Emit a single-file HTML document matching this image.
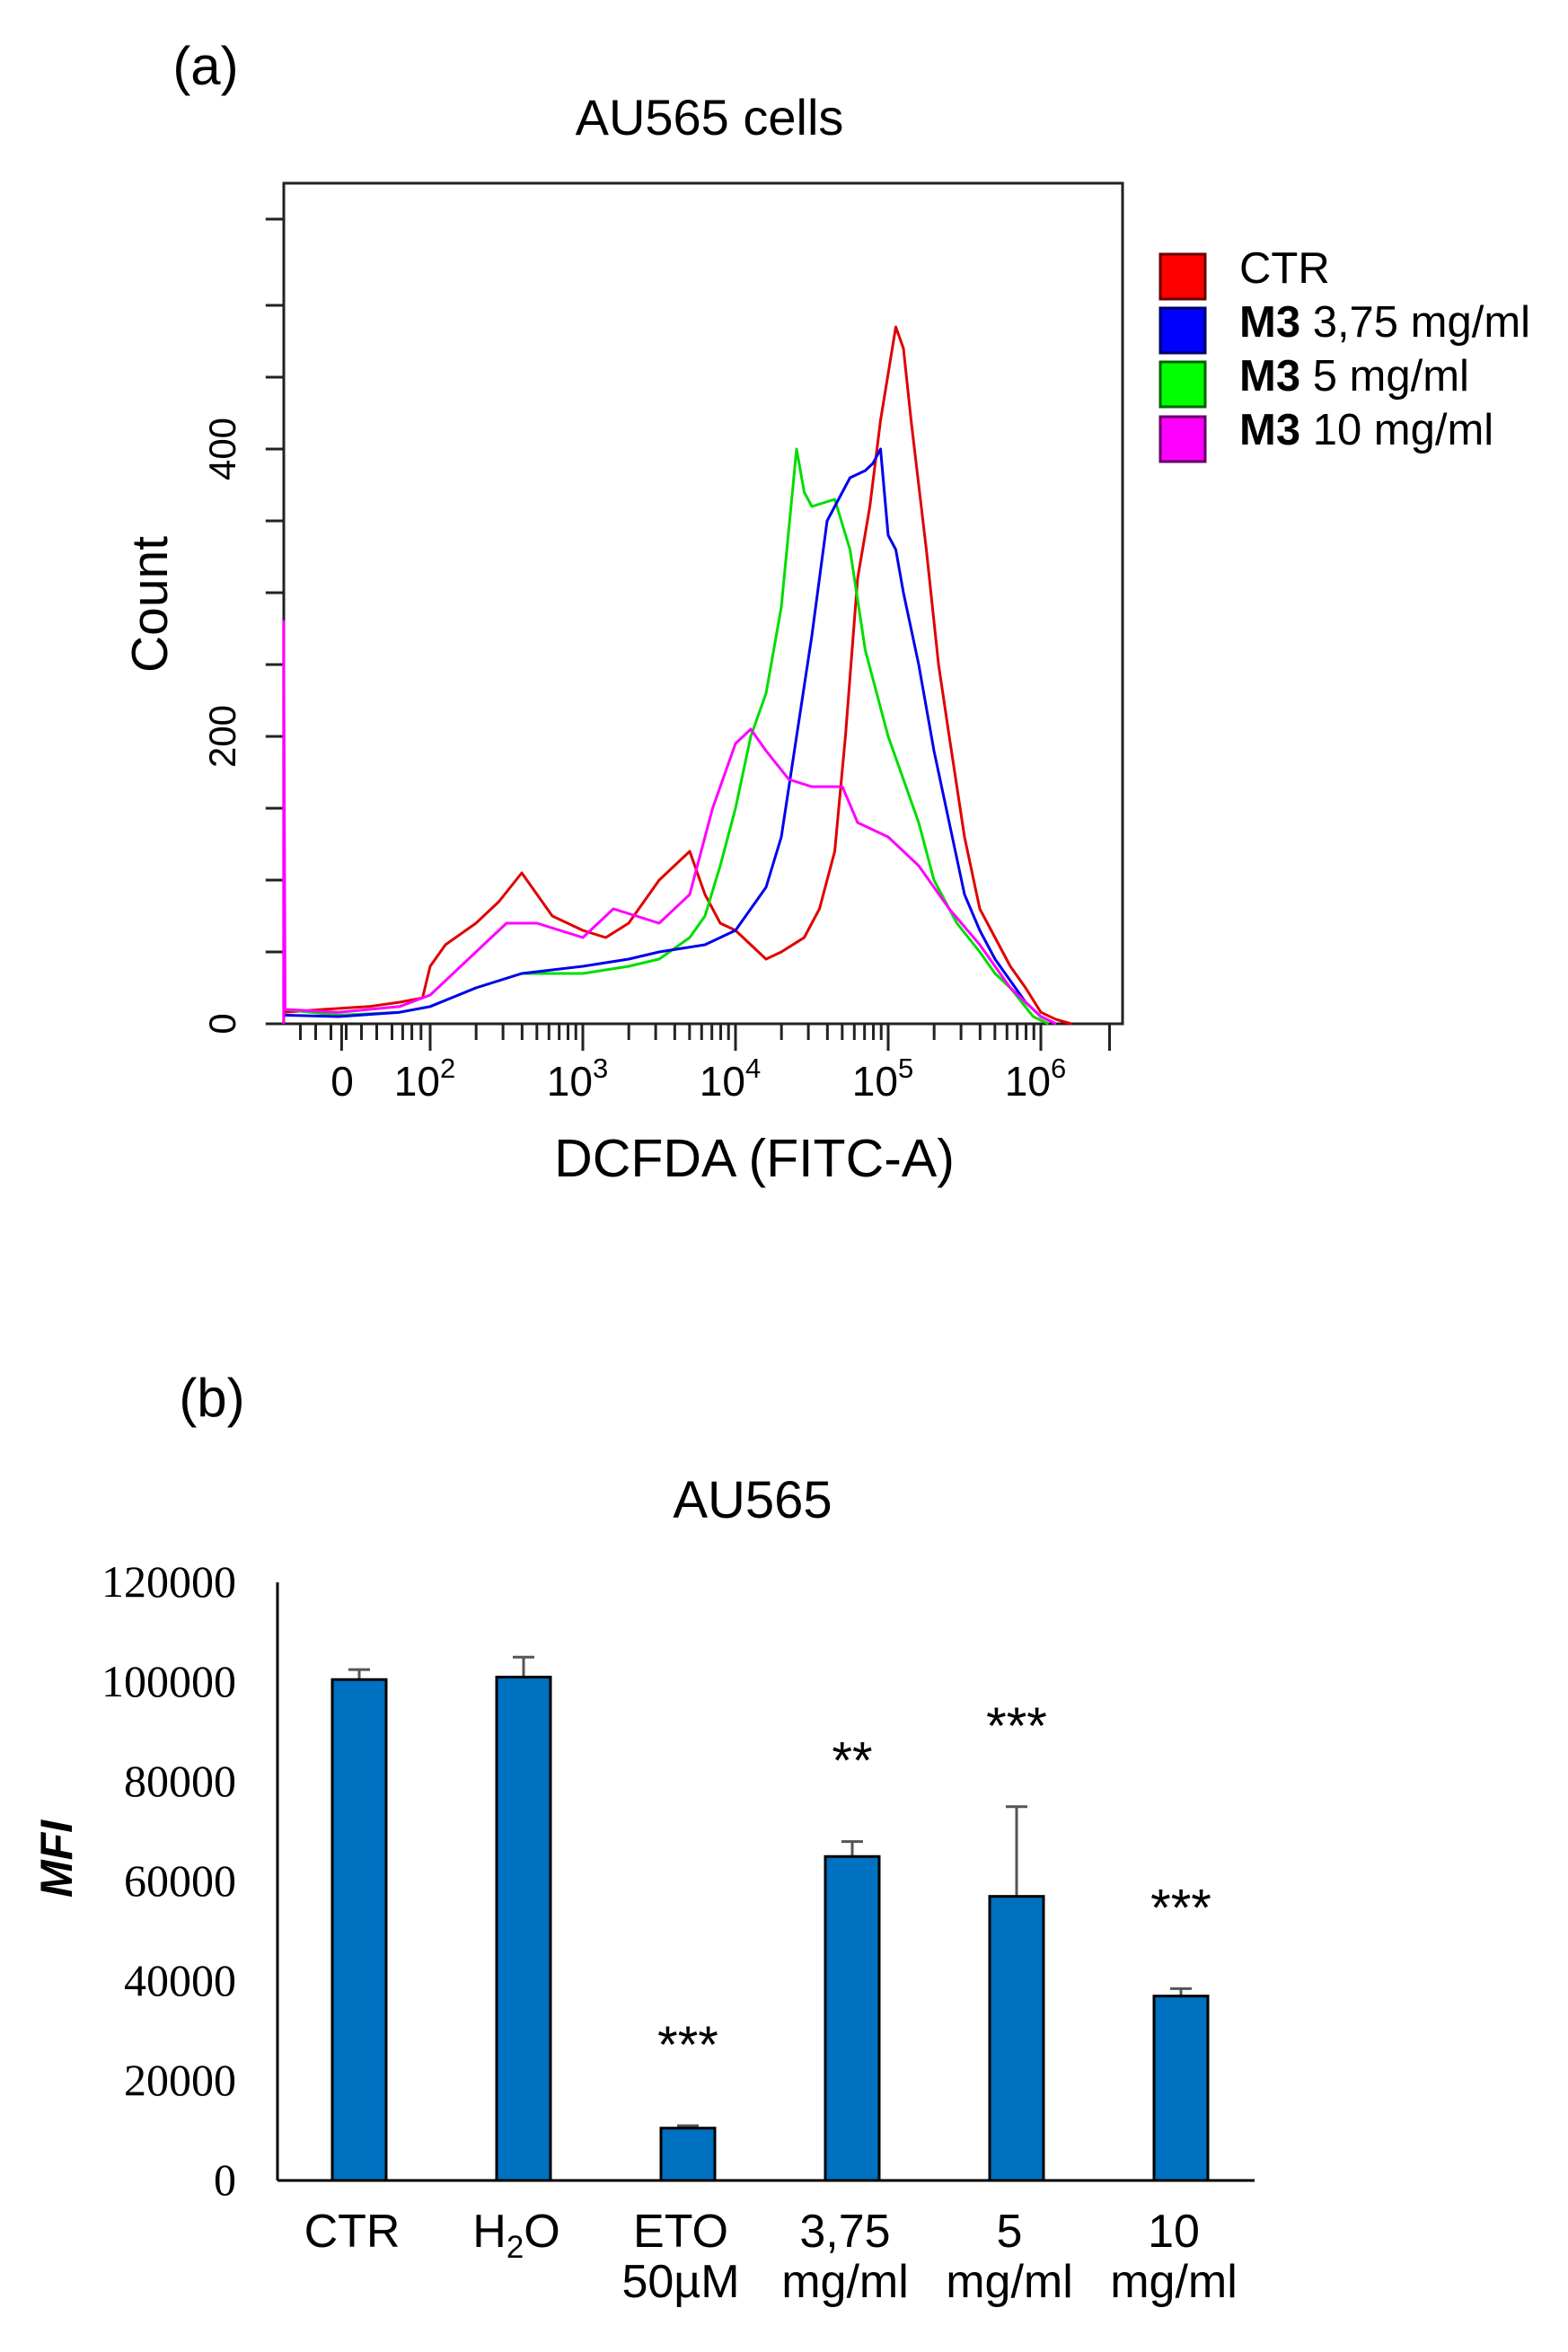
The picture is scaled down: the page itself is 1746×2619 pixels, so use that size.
<!DOCTYPE html>
<html><head><meta charset="utf-8"><style>
html,body{margin:0;padding:0;background:#fff;}
svg{display:block;}
text{font-family:"Liberation Sans",sans-serif;}
.serif{font-family:"Liberation Serif",serif;}
</style></head><body>
<svg id="fig" width="1746" height="2619" viewBox="0 0 1746 2619" xmlns="http://www.w3.org/2000/svg">
<text x="229" y="94" font-size="60" text-anchor="middle">(a)</text>
<text x="790" y="150" font-size="56" text-anchor="middle">AU565 cells</text>
<g id="hist"></g>
<text x="840" y="1310" font-size="59" text-anchor="middle">DCFDA (FITC-A)</text>
<text transform="translate(186,673) rotate(-90)" font-size="57" text-anchor="middle">Count</text>
<g>
 <rect x="1292" y="283" width="50" height="50" fill="#ff0000" stroke="#600" stroke-width="3"/>
 <rect x="1292" y="343" width="50" height="50" fill="#0000ff" stroke="#006" stroke-width="3"/>
 <rect x="1292" y="403" width="50" height="50" fill="#00ff00" stroke="#060" stroke-width="3"/>
 <rect x="1292" y="464" width="50" height="50" fill="#ff00ff" stroke="#606" stroke-width="3"/>
 <text x="1380" y="315" font-size="49">CTR</text>
 <text x="1380" y="375" font-size="49"><tspan font-weight="bold">M3</tspan> 3,75 mg/ml</text>
 <text x="1380" y="435" font-size="49"><tspan font-weight="bold">M3</tspan> 5 mg/ml</text>
 <text x="1380" y="495" font-size="49"><tspan font-weight="bold">M3</tspan> 10 mg/ml</text>
</g>
<text x="236" y="1577" font-size="60" text-anchor="middle">(b)</text>
<text x="838" y="1690" font-size="58" text-anchor="middle">AU565</text>
<text transform="translate(80,2070) rotate(-90)" font-size="50" font-weight="bold" font-style="italic" text-anchor="middle">MFI</text>
<g id="bars"></g>
</svg>
<script>
// ---------- Histogram data (x = log10 of fluorescence, y = count) ----------
const ctrX = [1.04,1.3,1.6,1.8,1.95,2.0,2.1,2.3,2.45,2.6,2.7,2.8,3.0,3.15,3.3,3.5,3.7,3.8,3.9,4.0,4.2,4.3,4.45,4.55,4.65,4.72,4.8,4.88,4.95,5.05,5.1,5.15,5.25,5.33,5.4,5.5,5.6,5.7,5.8,5.9,6.0,6.1,6.2];
const ctrY = [8,10,12,15,18,40,55,70,85,105,90,75,65,60,70,100,120,90,70,65,45,50,60,80,120,200,310,360,420,485,470,420,330,250,200,130,80,60,40,25,8,3,0];
const blueX = [1.04,1.4,1.8,2.0,2.3,2.6,3.0,3.3,3.5,3.8,4.0,4.1,4.2,4.3,4.4,4.5,4.6,4.7,4.75,4.85,4.9,4.95,5.0,5.05,5.1,5.2,5.3,5.4,5.5,5.6,5.7,5.8,5.9,6.0,6.1];
const blueY = [6,5,8,12,25,35,40,45,50,55,65,80,95,130,200,270,350,370,380,385,390,400,340,330,300,250,190,140,90,65,45,30,15,5,0];
const greenX = [1.04,1.4,1.8,2.0,2.3,2.6,3.0,3.3,3.5,3.7,3.8,3.9,4.0,4.1,4.2,4.3,4.4,4.45,4.5,4.65,4.75,4.85,5.0,5.1,5.2,5.3,5.45,5.6,5.7,5.8,5.95,6.05];
const greenY = [10,6,8,12,25,35,35,40,45,60,75,110,150,200,230,290,400,370,360,365,330,260,200,170,140,100,70,50,35,25,5,0];
const magX = [1.04,1.04,1.05,1.4,1.8,2.0,2.2,2.5,2.7,3.0,3.2,3.5,3.7,3.85,4.0,4.1,4.2,4.35,4.5,4.7,4.8,5.0,5.2,5.4,5.6,5.8,6.0,6.1];
const magY = [0,280,10,8,12,20,40,70,70,60,80,70,90,150,195,205,190,170,165,165,140,130,110,80,55,25,5,0];
const countTicks = [0,200,400];
const decadeTicks = [2,3,4,5,6];

// ---------- Bar chart data ----------
const barCats = ["CTR","H2O","ETO","3,75","5","10"];
const barVals = [100500,101000,10500,65000,57000,37000];
const barErrs = [2000,4000,500,3000,18000,1500];
const barStars = ["","","***","**","***","***"];
const barYTicks = [0,20000,40000,60000,80000,100000,120000];

const NS = "http://www.w3.org/2000/svg";
function mk(tag, attrs, parent){const e=document.createElementNS(NS,tag);for(const k in attrs)e.setAttribute(k,attrs[k]);parent.appendChild(e);return e;}

// ---- Histogram ----
const H = document.getElementById('hist');
const hx = d => 649 + (d-3)*170;
const hy = c => 1140 - c*1.6;
const box = mk('rect',{x:316,y:204,width:934,height:936,fill:'none',stroke:'#222','stroke-width':3},H);


[0,50,100,150,200,250,300,350,400,450,500,560].forEach(c=>{
  const t=mk('line',{x1:hx(1.04)-20,x2:hx(1.04),y1:hy(c),y2:hy(c),stroke:'#222','stroke-width':3},H);
  
  
});
countTicks.forEach(c=>{
  const t=mk('text',{transform:`translate(262,${hy(c)}) rotate(-90)`,'font-size':42,'text-anchor':'middle'},H);
  t.textContent=c;
  
  
});
const xt=[];
[1.15,1.25,1.35,1.45,1.55,1.65,1.75,1.82,1.88,1.94].forEach(d=>xt.push([d,18]));
xt.push([1.42,30]);
decadeTicks.forEach(dd=>{xt.push([dd,30]); if(dd<6) for(let m=2;m<10;m++) xt.push([dd+Math.log10(m),18]);});
xt.push([6.45,30]);
xt.forEach(([d,len])=>{
  const t=mk('line',{x1:hx(d),x2:hx(d),y1:1140,y2:1140+len,stroke:'#222','stroke-width':3},H);
  
  
});
const zl=mk('text',{x:381,y:1220,'font-size':46,'text-anchor':'middle'},H);
zl.textContent='0';


decadeTicks.forEach(dd=>{
  const t=mk('text',{x:hx(dd)-6,y:1220,'font-size':46,'text-anchor':'middle'},H);
  t.innerHTML='10<tspan dy="-20" font-size="31">'+dd+'</tspan>';
  
  
});
function curve(X,Y,col,name){
  const pts=X.map((d,i)=>hx(d).toFixed(1)+','+hy(Y[i]).toFixed(1)).join(' ');
  const p=mk('polyline',{points:pts,fill:'none',stroke:col,'stroke-width':3,'stroke-linejoin':'round'},H);
  
  
}
curve(ctrX,ctrY,'#e00000','histogram-ctr');
curve(greenX,greenY,'#00dd00','histogram-m3-5');
curve(blueX,blueY,'#0000ee','histogram-m3-375');
curve(magX,magY,'#ff00ff','histogram-m3-10');

// ---- Bars ----
const B = document.getElementById('bars');
const by = v => 2428 - v*(666/120000);
const bx = i => 400 + i*183;
const yax=mk('line',{x1:309,x2:309,y1:by(120000),y2:2428,stroke:'#000','stroke-width':3},B);


barYTicks.forEach(v=>{
  const t=mk('text',{x:263,y:by(v)+16,'font-size':50,'text-anchor':'end','class':'serif'},B);
  t.textContent=v;
  
  
});
barVals.forEach((v,i)=>{
  const e=mk('line',{x1:bx(i),x2:bx(i),y1:by(v+barErrs[i]),y2:by(v),stroke:'#555','stroke-width':3},B);
  
  
  const c=mk('line',{x1:bx(i)-12,x2:bx(i)+12,y1:by(v+barErrs[i]),y2:by(v+barErrs[i]),stroke:'#555','stroke-width':3},B);
  
  
  const r=mk('rect',{x:bx(i)-30,y:by(v),width:60,height:2428-by(v),fill:'#0070c0',stroke:'#000','stroke-width':3},B);
  
  
  if(barStars[i]){
    const s=mk('text',{x:bx(i),y:by(v+barErrs[i])-70,'font-size':58,'text-anchor':'middle'},B);
    s.textContent=barStars[i];
    
    
  }
});
const xax=mk('line',{x1:309,x2:1397,y1:2428,y2:2428,stroke:'#000','stroke-width':3},B);


const sub=["","","50µM","mg/ml","mg/ml","mg/ml"];
barCats.forEach((c,i)=>{
  const t=mk('text',{x:bx(i)-8,y:2502,'font-size':52,'text-anchor':'middle'},B);
  if(c==='H2O') t.innerHTML='H<tspan dy="12" font-size="35">2</tspan><tspan dy="-12">O</tspan>'; else t.textContent=c;
  
  
  if(sub[i]){
    const t2=mk('text',{x:bx(i)-8,y:2558,'font-size':52,'text-anchor':'middle'},B);
    t2.textContent=sub[i];
    
    
  }
});
</script>
</body></html>
